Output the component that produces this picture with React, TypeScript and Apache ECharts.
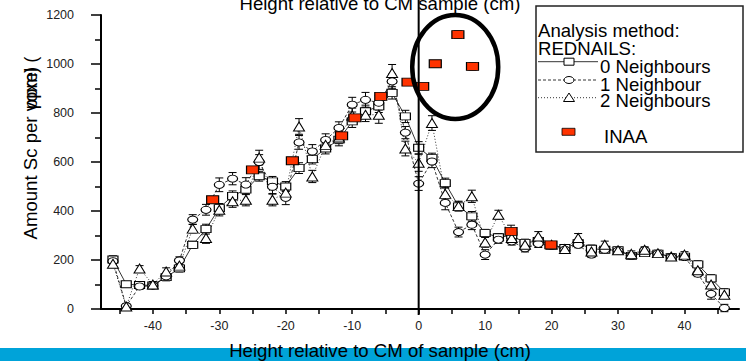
import React, { useEffect, useRef } from "react";
import * as echarts from "echarts";

const FONT = "Liberation Sans, Arial, sans-serif";

const heights = [-46, -44, -42, -40, -38, -36, -34, -32, -30, -28, -26, -24, -22, -20, -18, -16, -14, -12, -10, -8, -6, -4, -2, 0, 2, 4, 6, 8, 10, 12, 14, 16, 18, 20, 22, 24, 26, 28, 30, 32, 34, 36, 38, 40, 42, 44, 46];

const neighbours0 = [202, 101, 98, 96, 130, 166, 262, 326, 412, 462, 487, 542, 521, 500, 575, 612, 655, 691, 766, 807, 827, 882, 786, 658, 616, 514, 419, 378, 310, 293, 300, 270, 278, 262, 249, 269, 246, 242, 240, 217, 228, 226, 212, 214, 182, 125, 68];
const neighbours1 = [195, 12, 92, 95, 133, 198, 365, 405, 507, 532, 508, 600, 499, 454, 680, 643, 690, 739, 834, 854, 842, 929, 720, 512, 602, 433, 314, 344, 222, 283, 276, 248, 266, 258, 242, 262, 222, 242, 238, 217, 240, 226, 212, 212, 144, 62, 4];
const neighbours2 = [185, 10, 165, 100, 153, 177, 328, 290, 405, 440, 446, 618, 446, 475, 745, 541, 670, 700, 790, 793, 793, 963, 655, 597, 759, 470, 420, 460, 272, 385, 290, 262, 296, 262, 245, 290, 235, 262, 240, 225, 242, 228, 214, 222, 158, 100, 58];

const err0 = [15, 10, 12, 12, 15, 15, 15, 20, 18, 20, 20, 20, 20, 20, 22, 20, 22, 25, 25, 25, 25, 25, 25, 25, 20, 20, 18, 20, 15, 15, 15, 15, 15, 12, 12, 12, 15, 12, 10, 12, 10, 10, 10, 10, 15, 15, 15];
const err1 = [12, 10, 12, 10, 12, 15, 20, 22, 28, 25, 28, 30, 30, 28, 28, 28, 25, 25, 30, 30, 30, 30, 25, 28, 25, 28, 20, 20, 20, 15, 15, 15, 15, 12, 12, 12, 12, 12, 10, 10, 10, 10, 10, 10, 12, 22, 15];
const err2 = [12, 10, 12, 12, 15, 15, 18, 22, 25, 25, 25, 30, 25, 25, 32, 25, 25, 25, 30, 28, 35, 35, 30, 35, 30, 25, 20, 25, 20, 18, 18, 15, 20, 12, 12, 18, 15, 15, 12, 12, 12, 12, 12, 12, 15, 15, 15];

const inaaX = [-31, -25, -19, -11.6, -9.6, -5.7, -1.6, 0.6, 2.5, 5.9, 8.1, 13.9, 19.9];
const inaaY = [446, 568, 605, 707, 780, 868, 926, 909, 1001, 1120, 990, 317, 262];
const inaaErr = [10, 10, 12, 12, 12, 12, 12, 12, 12, 15, 15, 25, 12];

const xLabelValues = [-40, -30, -20, -10, 0, 10, 20, 30, 40];
const xTickValues = [-45, -40, -35, -30, -25, -20, -15, -10, -5, 0, 5, 10, 15, 20, 25, 30, 35, 40, 45];

const titleTop = "Height relative to CM sample (cm)";
const titleBottom = "Height relative to CM of sample (cm)";
const yTitle = "Amount Sc per voxel (";
const yTitleUnit = "ppm)";
const legendHeader = ["Analysis method:", "REDNAILS:"];
const legendNames = ["0 Neighbours", "1 Neighbour", "2 Neighbours", "INAA"];

// highlighted region (data coords)
const circleCenter = [5.5, 988];

function pairs(ys: number[]) {
  return heights.map((x, i) => [x, ys[i]]);
}
function errData(xs: number[], ys: number[], es: number[]) {
  return xs.map((x, i) => [x, ys[i], es[i]]);
}

function renderErr(params: any, api: any) {
  const x = api.value(0);
  const y = api.value(1);
  const e = api.value(2);
  const top = api.coord([x, y + e]);
  const bot = api.coord([x, y - e]);
  const hw = 4;
  const st = { stroke: "#000", lineWidth: 1 };
  return {
    type: "group",
    children: [
      { type: "line", shape: { x1: top[0], y1: top[1], x2: bot[0], y2: bot[1] }, style: st },
      { type: "line", shape: { x1: top[0] - hw, y1: top[1], x2: top[0] + hw, y2: top[1] }, style: st },
      { type: "line", shape: { x1: bot[0] - hw, y1: bot[1], x2: bot[0] + hw, y2: bot[1] }, style: st },
    ],
  };
}

function errSeries(data: any[]) {
  return {
    type: "custom",
    renderItem: renderErr,
    data,
    encode: { x: 0, y: 1 },
    z: 1,
    silent: true,
  };
}

export default function App() {
  const ref = useRef<HTMLDivElement>(null);
  useEffect(() => {
    if (!ref.current) return;
    const chart = echarts.init(ref.current, undefined, { renderer: "svg" });
    const lineBase = {
      type: "line",
      itemStyle: { color: "#fff", borderColor: "#000", borderWidth: 1 },
      z: 2,
    };
    chart.setOption({
      animation: false,
      grid: { left: 101, right: 7, top: 15, bottom: 52 },
      xAxis: {
        type: "value",
        min: -47.8,
        max: 48.2,
        splitLine: { show: false },
        axisLine: { lineStyle: { color: "#000", width: 2 } },
        axisTick: { customValues: xTickValues, length: 5, lineStyle: { color: "#000", width: 1.5 } },
        axisLabel: { customValues: xLabelValues, fontSize: 12.5, color: "#222", fontFamily: FONT, margin: 10 },
      },
      yAxis: {
        type: "value",
        min: 0,
        max: 1200,
        interval: 200,
        splitLine: { show: false },
        axisLine: { show: true, onZero: false, lineStyle: { color: "#000", width: 2 } },
        axisTick: { show: true, length: 10, lineStyle: { color: "#000", width: 1.5 } },
        minorTick: { show: true, splitNumber: 2, length: 6, lineStyle: { color: "#000", width: 1.5 } },
        axisLabel: {
          fontSize: 12.5,
          color: "#222",
          fontFamily: FONT,
          margin: 27,
          formatter: (v: number) => String(v),
        },
      },
      series: [
        errSeries(errData(heights, neighbours0, err0)),
        errSeries(errData(heights, neighbours1, err1)),
        errSeries(errData(heights, neighbours2, err2)),
        errSeries(errData(inaaX, inaaY, inaaErr)),
        {
          ...lineBase,
          name: legendNames[0],
          data: pairs(neighbours0),
          symbol: "rect",
          symbolSize: [10, 7],
          lineStyle: { color: "#000", width: 0.8, type: "solid" },
        },
        {
          ...lineBase,
          name: legendNames[1],
          data: pairs(neighbours1),
          symbol: "circle",
          symbolSize: [10, 7],
          lineStyle: { color: "#000", width: 0.8, type: [3, 2] },
        },
        {
          ...lineBase,
          name: legendNames[2],
          data: pairs(neighbours2),
          symbol: "triangle",
          symbolSize: [11, 9],
          lineStyle: { color: "#000", width: 0.8, type: [1, 2] },
        },
        {
          type: "scatter",
          name: legendNames[3],
          data: inaaX.map((x, i) => [x, inaaY[i]]),
          symbol: "rect",
          symbolSize: [12, 8],
          itemStyle: { color: "#FF3300", borderColor: "#000", borderWidth: 1, opacity: 1 },
          z: 3,
        },
      ],
    });

    const origin = chart.convertToPixel({ gridIndex: 0 }, [0, 0]) as number[];
    const cc = chart.convertToPixel({ gridIndex: 0 }, circleCenter) as number[];

    const lx = 538;
    const sampleX1 = 538;
    const sampleX2 = 598;
    const sampleMid = 569;
    const textStyle = (text: string, x: number, y: number, align = "left") => ({
      type: "text",
      x,
      y,
      z: 20,
      style: { text, fontSize: 18.6, fontFamily: FONT, fill: "#000", align, verticalAlign: "middle" },
    });

    chart.setOption({
      graphic: [
        { type: "rect", z: 0, shape: { x: 0, y: 348, width: 746, height: 13 }, style: { fill: "#00A3D9" } },
        textStyle(titleBottom, 380, 350.2, "center"),
        textStyle(titleTop, 380, 3.5, "center"),
        {
          type: "line",
          z: 15,
          shape: { x1: origin[0], y1: 0, x2: origin[0], y2: origin[1] + 6 },
          style: { stroke: "#000", lineWidth: 2 },
        },
        {
          type: "ellipse",
          z: 15,
          shape: { cx: cc[0], cy: cc[1], rx: 43, ry: 52 },
          style: { fill: "none", stroke: "#000", lineWidth: 4.5 },
        },
        {
          type: "text",
          x: 30,
          y: 148,
          rotation: Math.PI / 2,
          z: 20,
          style: { text: yTitle, fontSize: 18.6, fontFamily: FONT, fill: "#000", align: "center", verticalAlign: "middle" },
        },
        {
          type: "text",
          x: 30,
          y: 88,
          rotation: Math.PI / 2,
          z: 20,
          style: { text: yTitleUnit, fontSize: 18.6, fontFamily: FONT, fill: "#000", align: "center", verticalAlign: "middle" },
        },
        // legend box
        {
          type: "rect",
          z: 16,
          shape: { x: 536, y: 6, width: 207, height: 146 },
          style: { fill: "#fff", stroke: "#222", lineWidth: 1.5 },
        },
        textStyle(legendHeader[0], lx, 30.2),
        textStyle(legendHeader[1], lx, 48.5),
        textStyle(legendNames[0], 600, 66.8),
        textStyle(legendNames[1], 600, 84.2),
        textStyle(legendNames[2], 600, 100.2),
        textStyle(legendNames[3], 604, 136.8),
        { type: "line", z: 20, shape: { x1: sampleX1, y1: 61.7, x2: sampleX2, y2: 61.7 }, style: { stroke: "#000", lineWidth: 0.8 } },
        { type: "rect", z: 21, shape: { x: sampleMid - 5, y: 58.2, width: 10, height: 7 }, style: { fill: "#fff", stroke: "#000", lineWidth: 1 } },
        { type: "line", z: 20, shape: { x1: sampleX1, y1: 80, x2: sampleX2, y2: 80 }, style: { stroke: "#000", lineWidth: 0.8, lineDash: [3, 2] } },
        { type: "ellipse", z: 21, shape: { cx: sampleMid, cy: 80, rx: 5, ry: 3.5 }, style: { fill: "#fff", stroke: "#000", lineWidth: 1 } },
        { type: "line", z: 20, shape: { x1: sampleX1, y1: 97.7, x2: sampleX2, y2: 97.7 }, style: { stroke: "#000", lineWidth: 0.8, lineDash: [1, 2] } },
        {
          type: "polygon",
          z: 21,
          shape: { points: [[sampleMid, 93], [sampleMid - 5.5, 101.5], [sampleMid + 5.5, 101.5]] },
          style: { fill: "#fff", stroke: "#000", lineWidth: 1 },
        },
        { type: "rect", z: 21, shape: { x: 562, y: 128.3, width: 13, height: 7 }, style: { fill: "#FF3300", stroke: "#000", lineWidth: 0.8 } },
      ],
    });

    return () => chart.dispose();
  }, []);
  return <div ref={ref} style={{ position: "absolute", left: 0, top: 0, width: 746, height: 361 }} />;
}
